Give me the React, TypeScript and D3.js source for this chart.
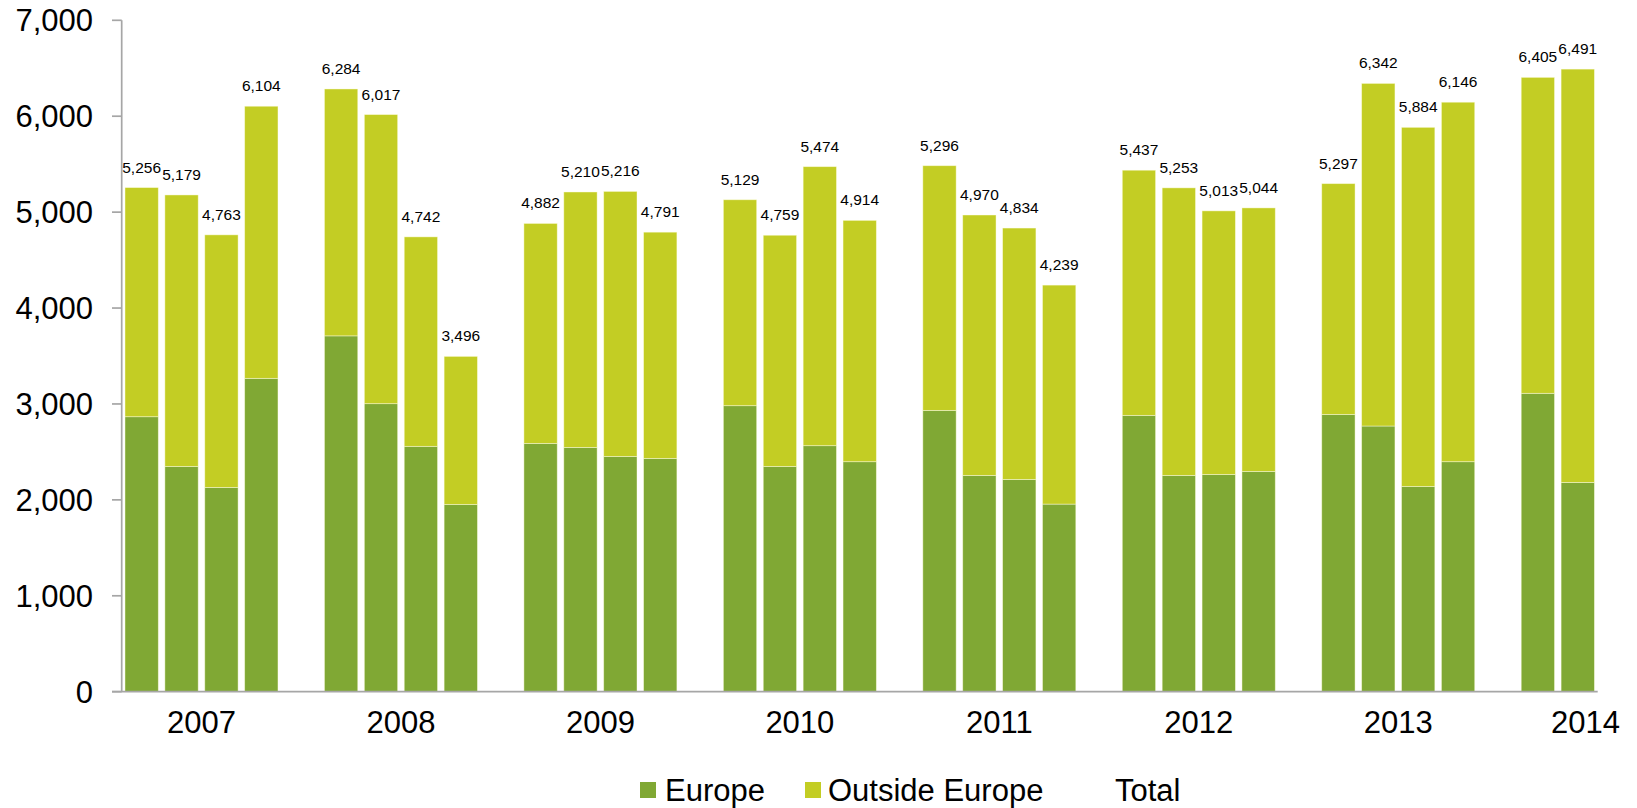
import React from "react";
import * as d3 from "d3";

const years = ["2007", "2008", "2009", "2010", "2011", "2012", "2013", "2014"];
const periodsPerYear = [4, 4, 4, 4, 4, 4, 4, 2];
const quarters = ["Q1", "Q2", "Q3", "Q4"];

const europeValues = [
  2867, 2349, 2130, 3267,
  3710, 3003, 2558, 1952,
  2589, 2547, 2453, 2432,
  2982, 2349, 2565, 2398,
  2933, 2255, 2213, 1956,
  2881, 2255, 2265, 2297,
  2891, 2770, 2140, 2398,
  3111, 2182,
];

const outsideValues = [
  2389, 2830, 2633, 2837,
  2574, 3014, 2184, 1544,
  2293, 2663, 2763, 2359,
  2147, 2410, 2909, 2516,
  2551, 2715, 2621, 2283,
  2556, 2998, 2748, 2747,
  2406, 3572, 3744, 3748,
  3294, 4309,
];

const totalValues = [
  5256, 5179, 4763, 6104,
  6284, 6017, 4742, 3496,
  4882, 5210, 5216, 4791,
  5129, 4759, 5474, 4914,
  5296, 4970, 4834, 4239,
  5437, 5253, 5013, 5044,
  5297, 6342, 5884, 6146,
  6405, 6491,
];

const yTicks = [0, 1000, 2000, 3000, 4000, 5000, 6000, 7000];
const seriesNames = ["Europe", "Outside Europe", "Total"];

const W = 1637;
const H = 808;
const COLOR_EUROPE = "#80a834";
const COLOR_OUTSIDE = "#c3cd24";
const AXIS_COLOR = "#a6a6a6";
const FONT = "'Liberation Sans', Arial, sans-serif";

type Row = { key: string; year: string; q: string; europe: number; outside: number; total: number };

export default function App() {
  const slots: string[] = [];
  const rows: Row[] = [];
  let k = 0;
  years.forEach((yr, yi) => {
    for (let i = 0; i < periodsPerYear[yi]; i++) {
      const key = `${yr}-${quarters[i]}`;
      slots.push(key);
      rows.push({ key, year: yr, q: quarters[i], europe: europeValues[k], outside: outsideValues[k], total: totalValues[k] });
      k++;
    }
    if (yi < years.length - 1) slots.push(`${yr}-gap`);
  });

  const x = d3
    .scaleBand<string>()
    .domain(slots)
    .range([121.7, 1597.7])
    .paddingInner(0.165)
    .paddingOuter(0.0825);

  const y = d3.scaleLinear().domain([0, 7000]).range([691.7, 20.3]);
  const fmt = d3.format(",");

  const stack = d3.stack<Row>().keys(["europe", "outside"]);
  const stacked = stack(rows);
  const colors = [COLOR_EUROPE, COLOR_OUTSIDE];

  const yearFont = 31;
  const yearLabelHalf = (yearFont * 2.224) / 2;

  return (
    <div style={{ position: "absolute", left: 0, top: 0 }}>
      <svg width={W} height={H} style={{ display: "block", background: "#fff" }} fontFamily={FONT}>
        {stacked.map((layer, li) => (
          <g key={layer.key}>
            {layer.map((d) => (
              <rect
                key={d.data.key}
                x={x(d.data.key)!}
                y={y(d[1])}
                width={x.bandwidth()}
                height={y(d[0]) - y(d[1])}
                fill={colors[li]}
                stroke="rgba(255,255,230,0.55)"
                strokeWidth={0.8}
              />
            ))}
          </g>
        ))}

        <line x1={121.7} x2={121.7} y1={y(7000)} y2={y(0)} stroke={AXIS_COLOR} strokeWidth={1.7} />
        <line x1={112} x2={1597.7} y1={y(0)} y2={y(0)} stroke={AXIS_COLOR} strokeWidth={1.7} />
        {yTicks.map((t) => (
          <g key={t}>
            <line x1={112} x2={121.7} y1={y(t)} y2={y(t)} stroke={AXIS_COLOR} strokeWidth={1.7} />
            <text x={93} y={y(t) + 11} textAnchor="end" fontSize={31} fill="#000">
              {fmt(t)}
            </text>
          </g>
        ))}

        {years.map((yr) => {
          const first = x(`${yr}-Q1`)!;
          const center = first + 1.5 * x.step() + x.bandwidth() / 2;
          const cx = Math.min(center, W - 17 - yearLabelHalf);
          return (
            <text key={yr} x={cx} y={733} textAnchor="middle" fontSize={yearFont} fill="#000">
              {yr}
            </text>
          );
        })}

        {rows.map((r) => (
          <text
            key={r.key}
            x={x(r.key)! + x.bandwidth() / 2}
            y={y(r.europe + r.outside) - 15}
            textAnchor="middle"
            fontSize={15.5}
            fill="#000"
          >
            {fmt(r.total)}
          </text>
        ))}

        <g>
          <rect x={640} y={782} width={16} height={16} fill={COLOR_EUROPE} />
          <text x={665} y={801} fontSize={31} fill="#000">{seriesNames[0]}</text>
          <rect x={805} y={782} width={16} height={16} fill={COLOR_OUTSIDE} />
          <text x={828} y={801} fontSize={31} fill="#000">{seriesNames[1]}</text>
          <text x={1115} y={801} fontSize={31} fill="#000">{seriesNames[2]}</text>
        </g>
      </svg>
    </div>
  );
}
